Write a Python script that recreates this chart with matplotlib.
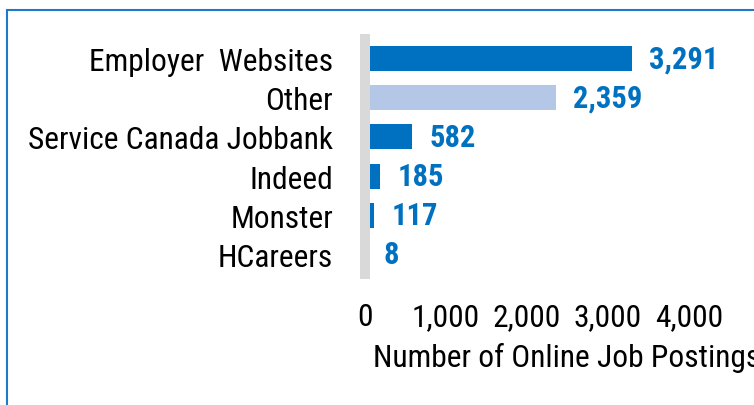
import matplotlib.pyplot as plt
from matplotlib.patches import Rectangle

categories = ['Employer  Websites', 'Other', 'Service Canada Jobbank', 'Indeed', 'Monster', 'HCareers']
postings = [3291, 2359, 582, 185, 117, 8]
bar_colors = ['#0070c0', '#b4c7e7', '#0070c0', '#0070c0', '#0070c0', '#0070c0']
xticks = [0, 1000, 2000, 3000, 4000]

plt.rcParams['font.family'] = ['Roboto Condensed', 'DejaVu Sans']
fs = 22.7

fig = plt.figure(figsize=(7.54, 4.06), dpi=100)
ax = fig.add_axes([365 / 754, 1 - 275 / 406, 324 / 754, 235 / 406])

y = list(range(len(categories)))
ax.barh(y, postings, height=0.64, color=bar_colors, zorder=2)
for yi, v in zip(y, postings):
    ax.annotate(f'{v:,}', (v, yi), xytext=(12.5, 0), textcoords='offset points',
                ha='left', va='center', fontsize=22, fontweight='bold', color='#0070c0')

ax.set_xlim(0, 4000)
ax.set_ylim(len(categories) - 0.5, -0.5)
ax.set_yticks(y)
ax.set_yticklabels(categories)
ax.set_xticks(xticks)
ax.set_xticklabels([f'{t:,}' for t in xticks])
ax.tick_params(axis='y', length=0, pad=23, labelsize=fs)
ax.tick_params(axis='x', length=0, pad=20, labelsize=fs)
# label runs past the right edge, as in the original
ax.set_xlabel('Number of Online Job Postings', fontsize=fs, ha='left', va='center')
ax.xaxis.set_label_coords(8 / 324, -83 / 235)

for s in ['top', 'right', 'bottom']:
    ax.spines[s].set_visible(False)
ax.spines['left'].set_color('#d9d9d9')
ax.spines['left'].set_linewidth(7.2)
ax.spines['left'].set_zorder(3)

fig.patches.append(Rectangle((7 / 754, -0.2), 1.2, 1.2 - 11 / 406, transform=fig.transFigure,
                             fill=False, edgecolor='#1f78c8', linewidth=1.5))

plt.savefig('out.png', dpi=100)
